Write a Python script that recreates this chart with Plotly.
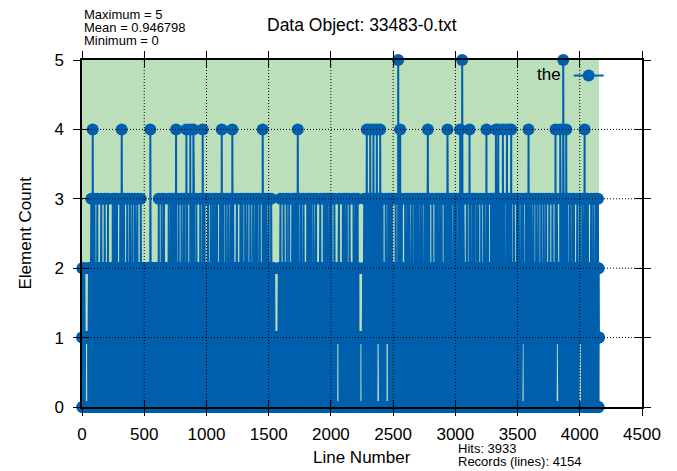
import plotly.graph_objects as go

# ---------------- data ----------------
records = 4154
hits = 3933
max_count, mean_count, min_count = 5, 0.946798, 0

x_ticks = [0, 500, 1000, 1500, 2000, 2500, 3000, 3500, 4000, 4500]
y_ticks = [0, 1, 2, 3, 4, 5]

# line numbers whose element count spikes to 5, 4 and 3
peak5_lines = [2541, 3055, 3867]
peak4_lines = [86, 319, 549, 756, 839, 870, 895, 970, 1123, 1208, 1452, 1734,
               2289, 2316, 2342, 2369, 2396, 2557, 2779, 2937, 3039, 3114,
               3250, 3326, 3345, 3382, 3415, 3449, 3588, 3805, 3843, 3891, 4039]
peak3_lines = [75, 100, 123, 155, 182, 209, 247, 264, 281, 308, 338, 364, 385,
               405, 425, 445, 472, 617, 640, 659, 697, 715, 732, 745, 777, 800,
               820, 845, 866, 884, 900, 919, 950, 985, 1013, 1035, 1053, 1070,
               1085, 1110, 1135, 1155, 1175, 1195, 1215, 1245, 1273, 1290, 1311,
               1330, 1353, 1375, 1394, 1410, 1429, 1465, 1480, 1500, 1520, 1595,
               1620, 1645, 1665, 1690, 1705, 1720, 1740, 1760, 1780, 1810, 1825,
               1841, 1860, 1881, 1915, 1943, 1960, 1972, 1990, 2005, 2028, 2065,
               2096, 2110, 2128, 2150, 2182, 2200, 2215, 2268, 2283, 2300, 2325,
               2335, 2350, 2360, 2380, 2405, 2415, 2440, 2460, 2475, 2490, 2520,
               2570, 2597, 2615, 2630, 2651, 2670, 2686, 2700, 2718, 2735, 2755,
               2770, 2790, 2815, 2840, 2855, 2873, 2890, 2913, 2925, 2953, 2970,
               2990, 3007, 3025, 3065, 3093, 3120, 3138, 3150, 3168, 3185, 3208,
               3230, 3262, 3286, 3300, 3310, 3334, 3355, 3370, 3395, 3425, 3440,
               3470, 3495, 3510, 3530, 3545, 3567, 3580, 3597, 3610, 3629, 3650,
               3669, 3690, 3710, 3730, 3755, 3780, 3815, 3861, 3880, 3900, 3921,
               3940, 3953, 3980, 4000, 4020, 4050, 4065, 4092, 4110, 4130, 4146]
# dense 0/1/2 texture of the lower band (one value per line, repeating)
band_texture = [1, 0, 2, 1, 0, 1, 0, 2, 1, 1, 0, 1, 2, 0, 1, 1]
# line ranges where the 1-2 band / 0-1 band show thin gaps
no_two_ranges = [(20, 50), (1545, 1580), (2225, 2258)]
no_zero_ranges = [(24, 46), (2046, 2068), (2231, 2253), (2368, 2390),
                  (2440, 2462), (3534, 3556), (3807, 3829), (3992, 4014)]

# ---------------- build the series ----------------
line_numbers = list(range(1, records + 1))
counts = [band_texture[(n - 1) % len(band_texture)] for n in line_numbers]
for lo, hi in no_two_ranges:
    for n in range(lo, hi + 1):
        if counts[n - 1] == 2:
            counts[n - 1] = 1
for lo, hi in no_zero_ranges:
    for n in range(lo, hi + 1):
        if counts[n - 1] == 0:
            counts[n - 1] = 1
for n in peak3_lines:
    counts[n - 1] = 3
for n in peak4_lines:
    counts[n - 1] = 4
for n in peak5_lines:
    counts[n - 1] = 5

BLUE = "#0060ad"
GREEN = "#bcdfbb"
FONT = "Liberation Sans, Arial, Helvetica, sans-serif"

fig = go.Figure()
fig.add_trace(go.Scatter(
    x=line_numbers, y=counts, mode="lines+markers", name=" ",
    line=dict(color=BLUE, width=2),
    marker=dict(symbol="circle", size=12, color=BLUE, line=dict(width=0)),
    cliponaxis=False, showlegend=True, hoverinfo="x+y",
))
# empty trace so the overlay axes (inner tick marks) are rendered
fig.add_trace(go.Scatter(x=[None], y=[None], xaxis="x2", yaxis="y2",
                         showlegend=False, hoverinfo="skip"))

# green data region
fig.add_shape(type="rect", xref="x", yref="y", x0=0, x1=records, y0=0, y1=max_count,
              fillcolor=GREEN, line=dict(width=0), layer="below")
# dotted grid drawn in front of the data (gnuplot style)
for xv in x_ticks[1:-1]:
    fig.add_shape(type="line", xref="x", yref="y", x0=xv, x1=xv, y0=y_ticks[0], y1=y_ticks[-1],
                  line=dict(color="black", width=1, dash="1px,2px"), layer="above")
for yv in y_ticks[1:-1]:
    fig.add_shape(type="line", xref="x", yref="y", x0=x_ticks[0], x1=x_ticks[-1], y0=yv, y1=yv,
                  line=dict(color="black", width=1, dash="1px,2px"), layer="above")

# page is 677x471; the plot div sits 8px in from the top-left (body margin)
OFF = 8
PAGE_W, PAGE_H = 677, 471
PL, PT, PR, PB = 82, 60, 642, 407      # plot area in page pixels
W, H = PAGE_W - OFF, PAGE_H - OFF
pw, ph = PR - PL, PB - PT


def px(xp):
    return (xp - PL) / pw


def py(yp):
    return (PB - yp) / ph


ann = []
ann.append(dict(text="Data Object: 33483-0.txt", x=0.5, y=py(25), xref="paper", yref="paper",
                showarrow=False, font=dict(size=17.5, family=FONT, color="black"),
                xanchor="center", yanchor="middle"))
for txt, yy in [(f"Maximum = {max_count}", 15), (f"Mean = {mean_count}", 28),
                (f"Minimum = {min_count}", 41)]:
    ann.append(dict(text=txt, x=px(82), y=py(yy), xref="paper", yref="paper",
                    showarrow=False, font=dict(size=13, family=FONT, color="black"),
                    xanchor="left", yanchor="middle"))
for txt, yy in [(f"Hits: {hits}", 449), (f"Records (lines): {records}", 462)]:
    ann.append(dict(text=txt, x=px(456), y=py(yy), xref="paper", yref="paper",
                    showarrow=False, font=dict(size=13, family=FONT, color="black"),
                    xanchor="left", yanchor="middle"))
ann.append(dict(text="Line Number", x=0.5, y=py(458), xref="paper", yref="paper",
                showarrow=False, font=dict(size=17, family=FONT, color="black"),
                xanchor="center", yanchor="middle"))
ann.append(dict(text="Element Count", x=px(25), y=0.5, xref="paper", yref="paper",
                showarrow=False, textangle=-90, font=dict(size=17, family=FONT, color="black"),
                xanchor="center", yanchor="middle"))

axis_common = dict(showgrid=False, zeroline=False, tickcolor="black", tickwidth=1, ticklen=7)

fig.update_layout(
    width=W, height=H,
    margin=dict(l=PL - OFF, r=W - (PR - OFF), t=PT - OFF, b=H - (PB - OFF), pad=0),
    paper_bgcolor="white", plot_bgcolor="white",
    font=dict(family=FONT, size=17, color="black"),
    annotations=ann,
    xaxis=dict(range=[x_ticks[0], x_ticks[-1]], tickvals=x_ticks, ticks="outside",
               showline=True, linecolor="black", linewidth=1.5, mirror="ticks",
               tickfont=dict(size=17, color="black"), ticklabelstandoff=4, **axis_common),
    yaxis=dict(range=[y_ticks[0], y_ticks[-1]], tickvals=y_ticks, ticks="outside",
               showline=True, linecolor="black", linewidth=1.5, mirror="ticks",
               tickfont=dict(size=17, color="black"), ticklabelstandoff=6, **axis_common),
    xaxis2=dict(range=[x_ticks[0], x_ticks[-1]], tickvals=x_ticks, ticks="inside",
                overlaying="x", anchor="y", mirror="ticks", showline=False,
                showticklabels=False, **axis_common),
    yaxis2=dict(range=[y_ticks[0], y_ticks[-1]], tickvals=y_ticks, ticks="inside",
                overlaying="y", anchor="x", mirror="ticks", showline=False,
                showticklabels=False, **axis_common),
    legend=dict(x=px(535), y=py(76), xanchor="left", yanchor="middle",
                bgcolor="rgba(0,0,0,0)", borderwidth=0,
                title=dict(text="the", side="left", font=dict(size=17, family=FONT)),
                font=dict(size=17, family=FONT)),
    showlegend=True,
)

fig.write_html("out.html")
